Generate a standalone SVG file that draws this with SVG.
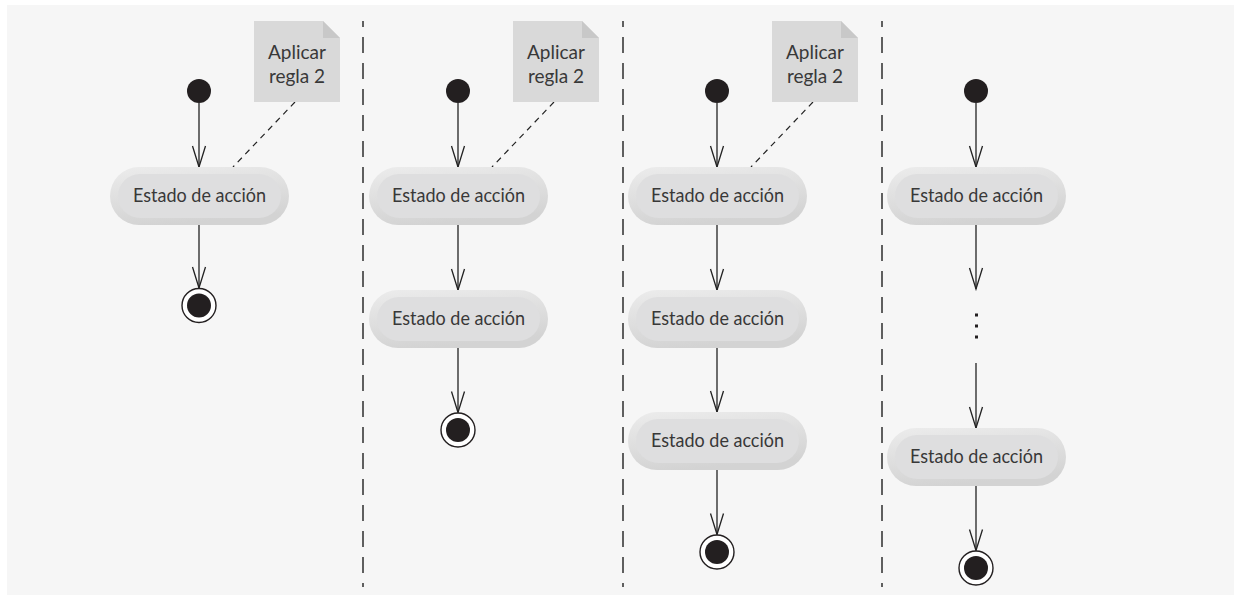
<svg xmlns="http://www.w3.org/2000/svg" width="1234" height="595" viewBox="0 0 1234 595">
<defs>
<style>
.bg{fill:#f6f6f6}
.div{stroke:#3a3a3a;stroke-width:1.6;stroke-dasharray:16 10;stroke-dashoffset:10;fill:none}
.edge{stroke:#222;stroke-width:1.3;fill:none}
.edge-a{stroke:#222;stroke-width:1.3;fill:none;marker-end:url(#arr)}
.anchor{stroke:#222;stroke-width:1.2;stroke-dasharray:6 5;fill:none}
.init{fill:#231f20}
.fin-o{fill:#fff;stroke:#231f20;stroke-width:1.4}
.fin-i{fill:#231f20}
.pill-o{fill:url(#pg)}
.pill-i{fill:#dededf}
.lbl{font-family:Lato,"Open Sans",sans-serif;font-size:19px;font-weight:400;fill:#383838;text-anchor:middle}
.note{fill:#d9d9d9}
.fold{fill:#c8c8c8}
.dot{fill:#231f20}
</style>
<linearGradient id="pg" x1="0" y1="0" x2="0.3" y2="1">
<stop offset="0" stop-color="#ececec"/>
<stop offset="1" stop-color="#d3d3d3"/>
</linearGradient>
<marker id="arr" markerUnits="userSpaceOnUse" viewBox="-1 -1 24 16" refX="21" refY="6.5" markerWidth="24" markerHeight="16" orient="auto">
<path d="M0,0 L21,6.5 L0,13" fill="none" stroke="#222" stroke-width="1.3"/>
</marker>
</defs>
<rect class="bg" x="7" y="5" width="1227" height="590"/>

<g id="dividers">
<line class="div" x1="363" y1="21" x2="363" y2="587"/>
<line class="div" x1="623" y1="21" x2="623" y2="587"/>
<line class="div" x1="882" y1="21" x2="882" y2="587"/>
</g>

<g id="connectors">
<line class="edge-a" x1="199" y1="103" x2="199" y2="167"/>
<line class="edge-a" x1="199" y1="225" x2="199" y2="288"/>
<line class="anchor" x1="295" y1="102" x2="233" y2="167"/>

<line class="edge-a" x1="458" y1="103" x2="458" y2="167"/>
<line class="edge-a" x1="458" y1="225" x2="458" y2="290"/>
<line class="edge-a" x1="458" y1="348" x2="458" y2="412.5"/>
<line class="anchor" x1="554" y1="102" x2="492" y2="167"/>

<line class="edge-a" x1="717" y1="103" x2="717" y2="167"/>
<line class="edge-a" x1="717" y1="225" x2="717" y2="290"/>
<line class="edge-a" x1="717" y1="348" x2="717" y2="412"/>
<line class="edge-a" x1="717" y1="470" x2="717" y2="534.5"/>
<line class="anchor" x1="813" y1="102" x2="751" y2="167"/>

<line class="edge-a" x1="976" y1="103" x2="976" y2="167"/>
<line class="edge-a" x1="976" y1="225" x2="976" y2="289"/>
<line class="edge-a" x1="976" y1="363" x2="976" y2="428"/>
<line class="edge-a" x1="976" y1="486" x2="976" y2="550.5"/>
</g>

<g id="col1">
<g id="note1"><path class="note" d="M254,21 H323 L340,38 V102 H254 Z"/><path class="fold" d="M323,21 L340,38 H323 Z"/>
<text class="lbl" x="297" y="59">Aplicar</text><text class="lbl" x="297" y="83">regla 2</text></g>
<g id="init1"><circle class="init" cx="199" cy="91" r="12"/></g>
<g id="act1a"><rect class="pill-o" x="110" y="167" width="179" height="58" rx="29"/><rect class="pill-i" x="118" y="174" width="163" height="44" rx="22"/><text class="lbl" x="199.5" y="202" textLength="133" lengthAdjust="spacingAndGlyphs">Estado de acción</text></g>
<g id="fin1"><circle class="fin-o" cx="199" cy="305.5" r="17"/><circle class="fin-i" cx="199" cy="305.5" r="12"/></g>
</g>

<g id="col2">
<g id="note2"><path class="note" d="M513,21 H582 L599,38 V102 H513 Z"/><path class="fold" d="M582,21 L599,38 H582 Z"/>
<text class="lbl" x="556" y="59">Aplicar</text><text class="lbl" x="556" y="83">regla 2</text></g>
<g id="init2"><circle class="init" cx="458" cy="91" r="12"/></g>
<g id="act2a"><rect class="pill-o" x="369" y="167" width="179" height="58" rx="29"/><rect class="pill-i" x="377" y="174" width="163" height="44" rx="22"/><text class="lbl" x="458.5" y="202" textLength="133" lengthAdjust="spacingAndGlyphs">Estado de acción</text></g>
<g id="act2b"><rect class="pill-o" x="369" y="290" width="179" height="58" rx="29"/><rect class="pill-i" x="377" y="297" width="163" height="44" rx="22"/><text class="lbl" x="458.5" y="325" textLength="133" lengthAdjust="spacingAndGlyphs">Estado de acción</text></g>
<g id="fin2"><circle class="fin-o" cx="458" cy="430" r="17"/><circle class="fin-i" cx="458" cy="430" r="12"/></g>
</g>

<g id="col3">
<g id="note3"><path class="note" d="M772,21 H841 L858,38 V102 H772 Z"/><path class="fold" d="M841,21 L858,38 H841 Z"/>
<text class="lbl" x="815" y="59">Aplicar</text><text class="lbl" x="815" y="83">regla 2</text></g>
<g id="init3"><circle class="init" cx="717" cy="91" r="12"/></g>
<g id="act3a"><rect class="pill-o" x="628" y="167" width="179" height="58" rx="29"/><rect class="pill-i" x="636" y="174" width="163" height="44" rx="22"/><text class="lbl" x="717.5" y="202" textLength="133" lengthAdjust="spacingAndGlyphs">Estado de acción</text></g>
<g id="act3b"><rect class="pill-o" x="628" y="290" width="179" height="58" rx="29"/><rect class="pill-i" x="636" y="297" width="163" height="44" rx="22"/><text class="lbl" x="717.5" y="325" textLength="133" lengthAdjust="spacingAndGlyphs">Estado de acción</text></g>
<g id="act3c"><rect class="pill-o" x="628" y="412" width="179" height="58" rx="29"/><rect class="pill-i" x="636" y="419" width="163" height="44" rx="22"/><text class="lbl" x="717.5" y="447" textLength="133" lengthAdjust="spacingAndGlyphs">Estado de acción</text></g>
<g id="fin3"><circle class="fin-o" cx="717" cy="552" r="17"/><circle class="fin-i" cx="717" cy="552" r="12"/></g>
</g>

<g id="col4">
<g id="init4"><circle class="init" cx="976" cy="91" r="12"/></g>
<g id="act4a"><rect class="pill-o" x="887" y="167" width="179" height="58" rx="29"/><rect class="pill-i" x="895" y="174" width="163" height="44" rx="22"/><text class="lbl" x="976.5" y="202" textLength="133" lengthAdjust="spacingAndGlyphs">Estado de acción</text></g>
<g id="ellipsis"><rect class="dot" x="975" y="313.5" width="3" height="3"/><rect class="dot" x="975" y="324.5" width="3" height="3"/><rect class="dot" x="975" y="335.5" width="3" height="3"/></g>
<g id="act4b"><rect class="pill-o" x="887" y="428" width="179" height="58" rx="29"/><rect class="pill-i" x="895" y="435" width="163" height="44" rx="22"/><text class="lbl" x="976.5" y="463" textLength="133" lengthAdjust="spacingAndGlyphs">Estado de acción</text></g>
<g id="fin4"><circle class="fin-o" cx="976" cy="568" r="17"/><circle class="fin-i" cx="976" cy="568" r="12"/></g>
</g>
</svg>
